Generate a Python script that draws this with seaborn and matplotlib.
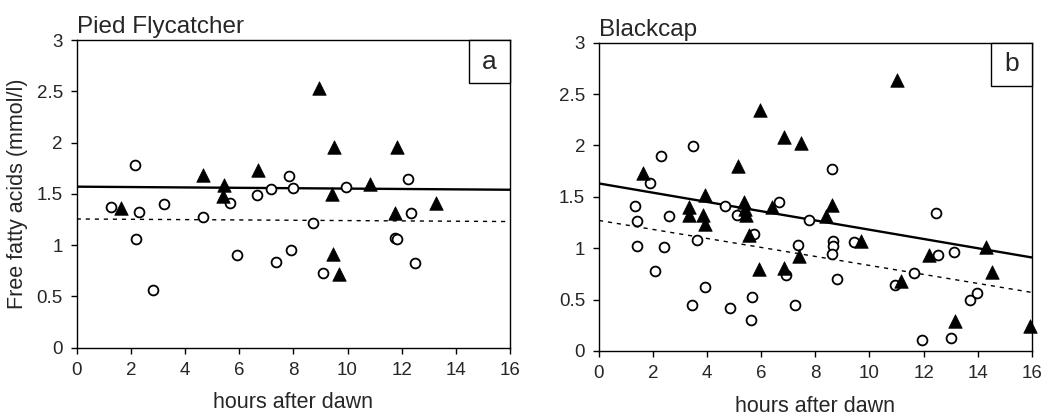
import numpy as np
import pandas as pd
import matplotlib
matplotlib.use("Agg")
import matplotlib.pyplot as plt
from matplotlib.patches import Rectangle
import seaborn as sns

# ---------------- data ----------------
a_circ_x = [1.27, 2.15, 2.31, 2.18, 2.80, 3.23, 4.65, 5.66, 5.90, 6.65, 7.16, 7.34, 7.82, 7.99,
            7.90, 8.73, 9.10, 9.93, 12.24, 12.34, 11.75, 11.84, 12.49]
a_circ_y = [1.37, 1.78, 1.32, 1.06, 0.56, 1.40, 1.27, 1.41, 0.90, 1.49, 1.55, 0.84, 1.67, 1.56,
            0.95, 1.22, 0.73, 1.57, 1.64, 1.31, 1.07, 1.06, 0.83]
a_tri_x = [1.63, 4.65, 5.45, 5.41, 6.68, 8.94, 9.49, 9.41, 9.47, 9.67, 10.82, 11.84, 11.75, 13.25]
a_tri_y = [1.36, 1.68, 1.59, 1.48, 1.73, 2.53, 1.96, 1.50, 0.91, 0.72, 1.60, 1.96, 1.31, 1.41]

b_circ_x = [1.89, 1.33, 1.39, 1.42, 2.28, 2.60, 2.40, 2.08, 3.46, 3.64, 3.43, 3.93, 4.65, 5.11,
            4.84, 5.73, 5.66, 5.63, 6.67, 7.35, 6.92, 7.26, 7.78, 8.60, 8.64, 8.64, 8.62, 8.79,
            9.44, 12.45, 12.52, 13.14, 11.66, 10.96, 13.72, 13.97, 11.93, 13.00]
b_circ_y = [1.63, 1.41, 1.26, 1.02, 1.90, 1.31, 1.01, 0.78, 1.99, 1.08, 0.45, 0.62, 1.41, 1.32,
            0.42, 1.14, 0.53, 0.30, 1.45, 1.03, 0.74, 0.45, 1.27, 1.77, 1.07, 1.02, 0.94, 0.70,
            1.06, 1.34, 0.93, 0.96, 0.76, 0.64, 0.50, 0.56, 0.11, 0.13]
b_tri_x = [1.61, 3.33, 3.33, 3.92, 3.83, 3.92, 5.15, 5.36, 5.40, 5.45, 5.55, 5.95, 5.92, 6.40,
           6.84, 6.84, 7.46, 7.41, 8.60, 8.38, 9.69, 11.03, 11.16, 12.21, 13.18, 14.31, 14.53, 15.94]
b_tri_y = [1.73, 1.40, 1.32, 1.52, 1.32, 1.24, 1.80, 1.45, 1.38, 1.32, 1.13, 2.34, 0.80, 1.40,
           2.08, 0.81, 2.02, 0.92, 1.42, 1.31, 1.07, 2.64, 0.68, 0.93, 0.29, 1.01, 0.77, 0.24]

line_x = [0, 16]
a_solid_y = [1.57, 1.54]
a_dash_y = [1.255, 1.23]
b_solid_y = [1.63, 0.91]
b_dash_y = [1.27, 0.57]

titles = ["Pied Flycatcher", "Blackcap"]
panel_letters = ["a", "b"]
x_ticks = [0, 2, 4, 6, 8, 10, 12, 14, 16]
y_ticks = [0, 0.5, 1, 1.5, 2, 2.5, 3]
y_tick_labels = ["0", "0.5", "1", "1.5", "2", "2.5", "3"]
x_label = "hours after dawn"
y_label = "Free fatty acids (mmol/l)"

# ---------------- style ----------------
sns.set_style("ticks")
plt.rcParams['font.family'] = ['Liberation Sans', 'DejaVu Sans']

fig = plt.figure(figsize=(10.54, 4.18), dpi=100)
ax_a = fig.add_axes([0.0728, 0.1682, 0.4111, 0.7361])
ax_b = fig.add_axes([0.5683, 0.1603, 0.4106, 0.7377])

panels = [
    (ax_a, a_circ_x, a_circ_y, a_tri_x, a_tri_y, a_solid_y, a_dash_y),
    (ax_b, b_circ_x, b_circ_y, b_tri_x, b_tri_y, b_solid_y, b_dash_y),
]

for i, (ax, cx, cy, tx, ty, sy, dy) in enumerate(panels):
    sns.lineplot(x=line_x, y=sy, ax=ax, color="black", linewidth=1.7, zorder=2)
    sns.lineplot(x=line_x, y=dy, ax=ax, color="black", linewidth=1.0,
                 linestyle=(0, (3, 3.5)), zorder=2)
    sns.scatterplot(x=cx, y=cy, ax=ax, marker="o", s=50, facecolor="white",
                    edgecolor="black", linewidth=1.3, zorder=3, clip_on=False)
    sns.scatterplot(x=tx, y=ty, ax=ax, marker="^", s=95, color="black",
                    edgecolor="black", linewidth=0.5, zorder=4, clip_on=False)

    ax.set_xlim(0, 16)
    ax.set_ylim(0, 3)
    ax.set_xticks(x_ticks)
    ax.set_xticklabels([str(t) for t in x_ticks], fontsize=13.5)
    ax.set_yticks(y_ticks)
    ax.set_yticklabels(y_tick_labels, fontsize=13.5)
    ax.tick_params(direction="out", length=4, width=1, color="black", pad=6)
    for sp in ax.spines.values():
        sp.set_visible(True)
        sp.set_color("black")
        sp.set_linewidth(1.0)
    ax.set_xlabel(x_label, fontsize=15.5, labelpad=10)
    if i == 0:
        ax.set_ylabel(y_label, fontsize=15.5, labelpad=6)
    else:
        ax.set_ylabel("")
    ax.set_title(titles[i], loc="left", fontsize=17.5, pad=5, x=0.0)

    # panel letter box
    bw, bh = 0.094, 0.14
    ax.add_patch(Rectangle((1 - bw, 1 - bh), bw, bh, transform=ax.transAxes,
                           facecolor="white", edgecolor="black", linewidth=1.0,
                           zorder=5, clip_on=False))
    ax.text(1 - bw / 2, 1 - bh / 2, panel_letters[i], transform=ax.transAxes,
            ha="center", va="center", fontsize=19, zorder=6)

fig.savefig("out.png", dpi=100)
